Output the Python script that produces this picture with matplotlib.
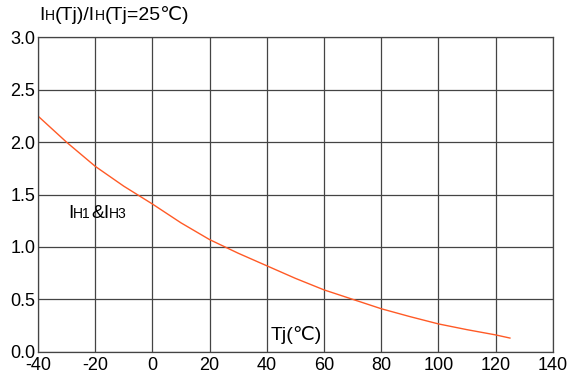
import matplotlib
matplotlib.use('Agg')
import matplotlib.pyplot as plt

# data
tj = [-40, -30, -20, -10, 0, 10, 20, 30, 40, 50, 60, 70, 80, 90, 100, 110, 120, 125]
ratio = [2.25, 2.0, 1.77, 1.58, 1.41, 1.23, 1.07, 0.94, 0.82, 0.70, 0.59, 0.50, 0.41, 0.335, 0.265, 0.21, 0.16, 0.13]

x_ticks = [-40, -20, 0, 20, 40, 60, 80, 100, 120, 140]
y_ticks = [0.0, 0.5, 1.0, 1.5, 2.0, 2.5, 3.0]

plt.rcParams['font.family'] = ['Liberation Sans', 'DejaVu Sans']
plt.rcParams['axes.unicode_minus'] = False

fig = plt.figure(figsize=(5.67, 3.81), dpi=100)
ax = fig.add_axes([0.067, 0.077, 0.908, 0.8246])

ax.plot(tj, ratio, color='#ff5a26', linewidth=1.0)

ax.set_xlim(-40, 140)
ax.set_ylim(0, 3.0)
ax.set_xticks(x_ticks)
ax.set_yticks(y_ticks)
ax.set_yticklabels(['%.1f' % v for v in y_ticks])
ax.tick_params(length=0, labelsize=13, colors='black')
ax.tick_params(axis='x', pad=4)
ax.tick_params(axis='y', pad=2)
ax.grid(True, color='#444444', linewidth=0.9)
for s in ax.spines.values():
    s.set_color('#444444')
    s.set_linewidth(0.9)

renderer = fig.canvas.get_renderer()

# text with big and small capitals on one baseline, placed in pixels
def chain(pieces, x_px, y_px):
    for txt, size in pieces:
        t = fig.text(x_px / 567, 1 - y_px / 381, txt, fontsize=size, va='baseline', ha='left')
        x_px += t.get_window_extent(renderer).width

big, small = 14, 10
chain([('I', big), ('H', small), ('(Tj)/I', big), ('H', small), ('(Tj=25℃)', big)], 39, 20.5)
chain([('I', big), ('H1', small), ('&I', big), ('H3', small)], 68, 217.5)

ax.text(41.4, 0.11, 'Tj(℃)', fontsize=14, va='baseline', ha='left')

fig.savefig('out.png', dpi=100)
